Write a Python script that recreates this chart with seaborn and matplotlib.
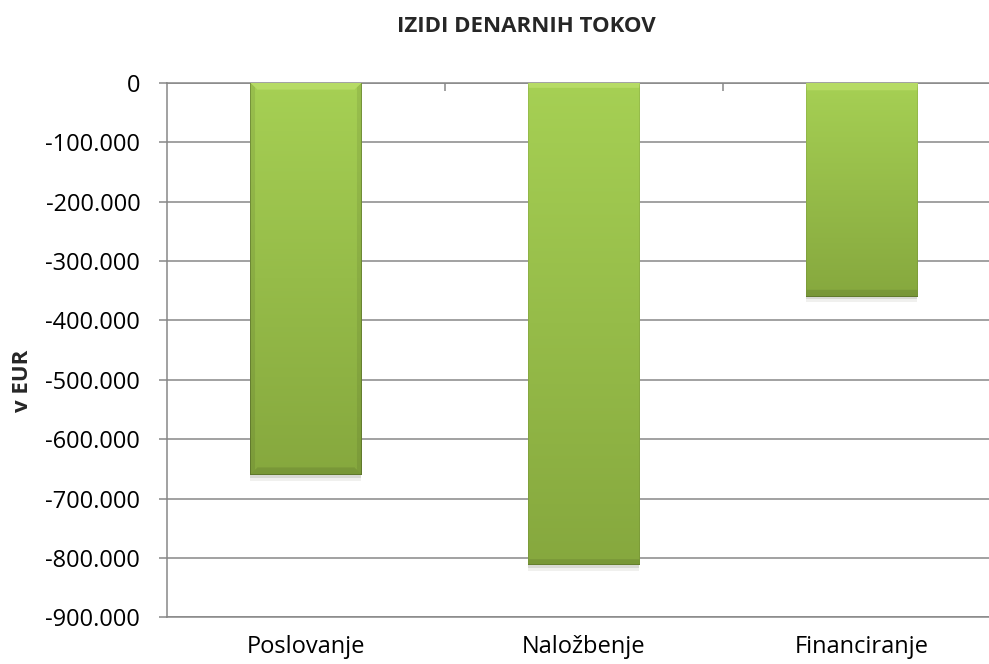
import numpy as np
import pandas as pd
import matplotlib
matplotlib.use('Agg')
import matplotlib.pyplot as plt
import seaborn as sns
from matplotlib import patheffects as pe
from matplotlib.ticker import FuncFormatter

categories = ['Poslovanje', 'Naložbenje', 'Financiranje']
values = [-661000, -812000, -360000]
ytick_vals = list(range(0, -1000000, -100000))

sns.set_style('white')
plt.rcParams['font.family'] = ['Open Sans', 'DejaVu Sans']

grid_col = '#878787'

fig = plt.figure(figsize=(9.89, 6.64), dpi=100)
ax = fig.add_axes([166.7 / 989, 46.7 / 664, 834 / 989, 534.6 / 664])

df = pd.DataFrame({'kategorija': categories, 'znesek': values})
sns.barplot(data=df, x='kategorija', y='znesek', color='#9BC34B', width=0.4,
            ax=ax, zorder=2, linewidth=0)


def bar_img(w, h):
    # excel style gradient with a small bevel
    t = np.linspace(0, 1, h)[:, None, None]
    top = np.array([166, 208, 84]) / 255
    bot = np.array([134, 168, 62]) / 255
    img = np.broadcast_to(top * (1 - t) + bot * t, (h, w, 3)).copy()
    yy, xx = np.mgrid[0:h, 0:w]
    side = np.minimum(xx, w - 1 - xx)
    dt = yy
    db = h - 1 - yy
    top_bev = (dt < 8) & (dt <= side)
    bot_bev = (db < 8) & (db <= side) & ~top_bev
    side_bev = (side < 5) & ~top_bev & ~bot_bev
    img[top_bev] = img[top_bev] * 0.5 + np.array([200, 232, 120]) / 255 * 0.5
    img[bot_bev] = img[bot_bev] * 0.9
    img[side_bev] = img[side_bev] * 0.92
    edge = (side < 1) | (db < 1)
    img[edge] = img[edge] * 0.78
    return img


fig.canvas.draw()
for p in ax.patches:
    bb = p.get_window_extent()
    w, h = max(int(round(bb.width)), 2), max(int(round(bb.height)), 2)
    p.set_path_effects([pe.SimplePatchShadow(offset=(0, -2), alpha=0.12),
                        pe.SimplePatchShadow(offset=(0, -4), alpha=0.07),
                        pe.Normal()])
    x0 = p.get_x()
    ax.imshow(bar_img(w, h), extent=(x0, x0 + p.get_width(),
                                     p.get_y() + p.get_height(), p.get_y()),
              aspect='auto', origin='upper', zorder=3, interpolation='bilinear')

ax.set_xlim(-0.5, 2.5)
ax.set_ylim(-900000, 0)
ax.set_yticks(ytick_vals)
ax.yaxis.set_major_formatter(FuncFormatter(lambda v, p: f'{int(round(v)):,}'.replace(',', '.')))
ax.set_axisbelow(True)
ax.yaxis.grid(True, color=grid_col, linewidth=1.1)
ax.xaxis.grid(False)

for s in ['top', 'left', 'bottom']:
    ax.spines[s].set_color(grid_col)
    ax.spines[s].set_linewidth(1.1)
ax.spines['right'].set_visible(False)

ax.tick_params(axis='y', which='major', left=True, length=6, width=1.1,
               color=grid_col, pad=13, labelsize=17, labelcolor='black')
ax.tick_params(axis='x', which='major', length=0, pad=13, labelsize=17,
               labelcolor='black')
ax.set_xticks([0.5, 1.5, 2.5], minor=True)
ax.tick_params(axis='x', which='minor', top=True, bottom=False,
               direction='in', length=6, width=1.1, color=grid_col)

ax.set_xlabel('')
ax.set_ylabel('')
fig.text(22 / 989, 1 - 381 / 664, 'v EUR', rotation=90, ha='center',
         va='center', fontsize=16, fontweight='bold')
fig.text(526 / 989, 1 - 26 / 664, 'IZIDI DENARNIH TOKOV', ha='center',
         va='center', fontsize=16, fontweight='bold')

fig.savefig('out.png', dpi=100)
